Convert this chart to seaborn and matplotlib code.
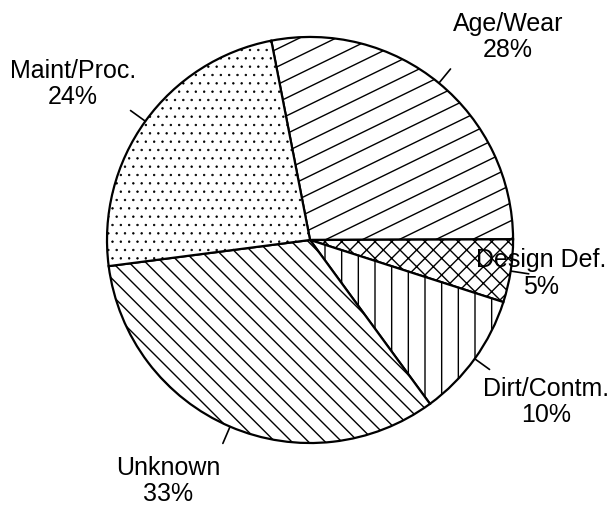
import numpy as np
import matplotlib
matplotlib.use('Agg')
import matplotlib.pyplot as plt
import seaborn as sns
from matplotlib.collections import LineCollection

causes = ['Age/Wear', 'Design Def.', 'Dirt/Contm.', 'Unknown', 'Maint/Proc.']
shares = [28, 5, 10, 33, 24]
hatches = ['', 'xx', '|', '\\\\', '..']
label_xy = [(0.975, 1.0), (1.138, -0.163), (1.163, -0.798), (-0.70, -1.187), (-1.167, 0.768)]

sns.set_theme(style='white')
plt.rcParams['font.family'] = ['Liberation Sans', 'DejaVu Sans']
plt.rcParams['hatch.linewidth'] = 1.0
plt.rcParams['hatch.color'] = 'black'

fig = plt.figure(figsize=(6.15, 5.08), dpi=100)
ax = fig.add_axes([0, 0, 1, 1])

wedges, _ = ax.pie(shares, startangle=101, counterclock=False, radius=1, center=(0, 0),
                   colors=['white'] * len(shares),
                   wedgeprops=dict(edgecolor='black', linewidth=1.6))
for w, h in zip(wedges, hatches):
    w.set_hatch(h)
# finer dots for Maint/Proc.
if hasattr(wedges[4], 'set_hatch_linewidth'):
    wedges[4].set_hatch_linewidth(0.5)

# shallow diagonal hatch for Age/Wear, clipped to the wedge
slope = np.tan(np.radians(26))
offs = np.arange(-2.5, 2.5, 0.088)
segs = [[(-1.3, b - 1.3 * slope), (1.3, b + 1.3 * slope)] for b in offs]
lc = LineCollection(segs, colors='black', linewidths=1.0)
ax.add_collection(lc)
lc.set_clip_path(wedges[0])

for w, name, share, (tx, ty) in zip(wedges, causes, shares, label_xy):
    mid = np.radians((w.theta1 + w.theta2) / 2)
    ax.plot([np.cos(mid), 1.09 * np.cos(mid)], [np.sin(mid), 1.09 * np.sin(mid)],
            color='black', linewidth=1.2)
    ax.text(tx, ty, f'{name}\n{share}%', ha='center', va='center',
            fontsize=18, linespacing=1.15, color='black')

ax.set_xlim(-1.527, 1.502)
ax.set_ylim(-1.320, 1.182)
ax.set_aspect('auto')
ax.axis('off')

fig.savefig('out.png', dpi=100, facecolor='white')
